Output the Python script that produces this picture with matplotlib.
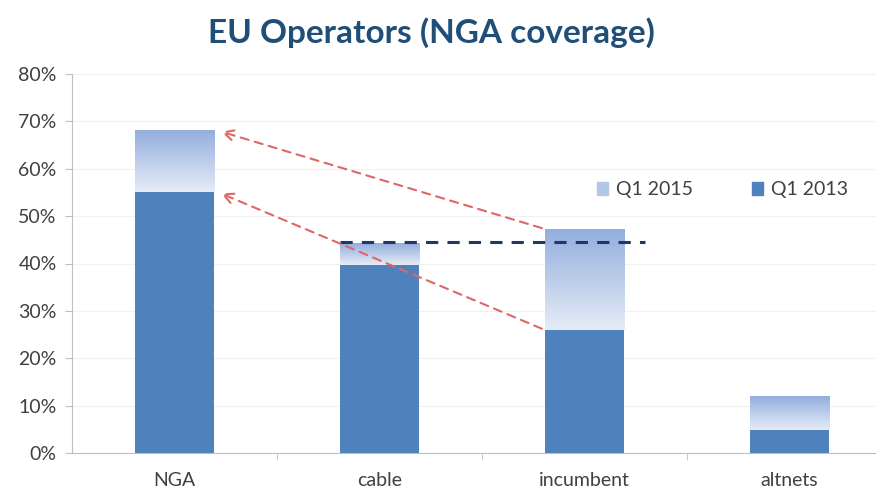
import numpy as np
import matplotlib.pyplot as plt
from matplotlib.colors import LinearSegmentedColormap
from matplotlib.patches import Patch

categories = ['NGA', 'cable', 'incumbent', 'altnets']
q1_2013 = [55.0, 39.7, 26.0, 4.9]
q1_2015 = [68.0, 44.3, 47.3, 12.0]
cable_level = 44.5

plt.rcParams['font.family'] = ['Lato', 'DejaVu Sans']

fig = plt.figure(figsize=(8.76, 4.9), dpi=100)
ax = fig.add_axes([72/876, 1-453/490, 820/876, 379/490])

x = np.arange(len(categories))
w = 0.39
dark = '#4F81BD'
grad = LinearSegmentedColormap.from_list('g', ['#E6ECF7', '#93AEDD'])
g = np.linspace(0, 1, 256).reshape(-1, 1)

ax.bar(x, q1_2013, w, color=dark, zorder=3)
for xi, lo, hi in zip(x, q1_2013, q1_2015):
    ax.imshow(g, cmap=grad, origin='lower', aspect='auto',
              extent=[xi - w/2, xi + w/2, lo, hi], zorder=3)

ax.set_xlim(-0.5, 3.5)
ax.set_ylim(0, 80)
ax.set_yticks(range(0, 81, 10))
ax.set_yticklabels([f'{v}%' for v in range(0, 81, 10)])
ax.set_xticks(x)
ax.set_xticklabels(categories)
ax.set_xticks(np.arange(0.5, 3.5, 1), minor=True)
ax.tick_params(axis='x', which='major', length=0, pad=14)
ax.tick_params(axis='x', which='minor', length=5, color='#BFBFBF')
ax.tick_params(axis='y', length=5, color='#BFBFBF', pad=6)
ax.tick_params(labelsize=14, labelcolor='#404040')
ax.grid(axis='y', color='#F0F0F0', lw=0.8, zorder=0)
for s in ['top', 'right']:
    ax.spines[s].set_visible(False)
for s in ['left', 'bottom']:
    ax.spines[s].set_color('#BFBFBF')

# cable reference line
ax.plot([x[1] - w/2, x[2] + w/2 + 0.1], [cable_level, cable_level],
        ls=(0, (4, 3)), color='#1F3864', lw=2.2, zorder=5)

# arrows from incumbent to NGA
for src, dst in [(q1_2015[2], q1_2015[0]), (q1_2013[2], q1_2013[0])]:
    ax.annotate('', xy=(x[0] + w/2 + 0.02, dst), xytext=(x[2] - w/2, src),
                arrowprops=dict(arrowstyle='->', color='#E06666', lw=1.5,
                                ls=(0, (4, 3)), mutation_scale=18), zorder=6)

handles = [Patch(color='#B4C7E7'), Patch(color=dark)]
ax.legend(handles, ['Q1 2015', 'Q1 2013'], loc='center left',
          bbox_to_anchor=(0.64, 0.694), ncol=2, frameon=False, fontsize=14,
          handlelength=0.6, handleheight=0.6, columnspacing=3.0,
          handletextpad=0.4, labelcolor='#404040', borderpad=0,
          borderaxespad=0)

fig.text(0.492, 0.933, 'EU Operators (NGA coverage)', ha='center', va='center',
         fontsize=24, fontweight='bold', color='#1F4E79')

fig.savefig('out.png', dpi=100)
